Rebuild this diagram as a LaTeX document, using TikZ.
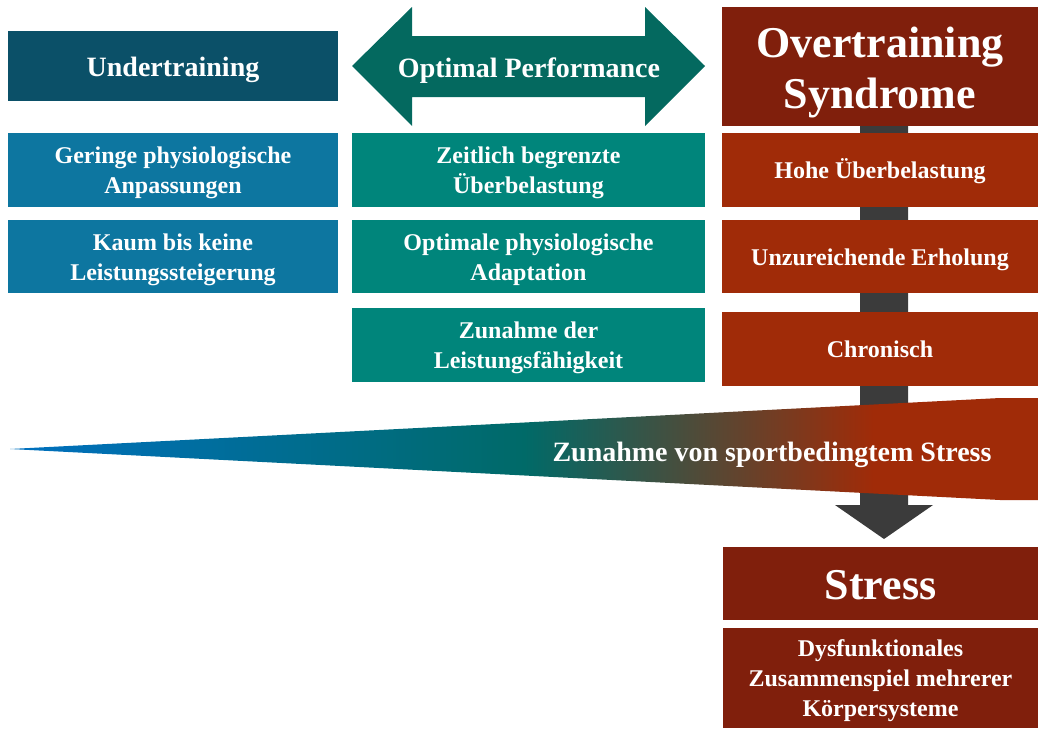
\documentclass[tikz,border=0pt]{standalone}
\usepackage{fontspec}
\setmainfont{Liberation Serif}

\definecolor{underdark}{RGB}{11,80,104}
\definecolor{underblue}{RGB}{13,118,160}
\definecolor{optdark}{RGB}{4,105,95}
\definecolor{optteal}{RGB}{0,133,123}
\definecolor{overdark}{RGB}{128,31,12}
\definecolor{overred}{RGB}{160,43,8}
\definecolor{bargray}{RGB}{59,59,59}
\definecolor{wedgeblue}{RGB}{0,112,192}
\definecolor{wedgeteal}{RGB}{0,106,104}

\pgfdeclarehorizontalshading{stressgrad}{100bp}{color(0bp)=(wedgeblue); color(25bp)=(wedgeblue); color(50bp)=(wedgeteal); color(67bp)=(overred); color(100bp)=(overred)}

\begin{document}
\begin{tikzpicture}[x=1pt, y=-1pt,
  nlines/.style={execute at begin node={\rule{0pt}{\dimexpr0.95em+#1\baselineskip-\baselineskip\relax}}},
  box/.style={inner sep=0pt, text=white, align=center, minimum height=74pt,
    font=\bfseries\fontsize{24}{30}\selectfont, nlines=1,
    execute at end node={\rule[-0.22em]{0pt}{0pt}}},
  undercol/.style={box, fill=underblue, minimum width=330pt},
  optcol/.style={box, fill=optteal, minimum width=353pt},
  overcol/.style={box, fill=overred, minimum width=316pt},
  title/.style={font=\bfseries\fontsize{28}{34}\selectfont},
  bigtitle/.style={font=\bfseries\fontsize{44}{51}\selectfont}]
  \useasboundingbox (0,0) rectangle (1038,728);

  % arrow behind the right column
  \fill[bargray] (860,110) -- (908,110) -- (908,505) -- (933,505) -- (884,539)
    -- (835,505) -- (860,505) -- cycle;

  % left column
  \node[undercol, fill=underdark, minimum height=70pt, title] (under) at (173,66) {Undertraining};
  \node[undercol, nlines=2] (gering) at (173,170) {Geringe physiologische\\Anpassungen};
  \node[undercol, nlines=2, minimum height=73pt] (kaum) at (173,256.5) {Kaum bis keine\\Leistungssteigerung};

  % middle column
  \fill[optdark] (352,66) -- (412,7) -- (412,36) -- (645,36) -- (645,7) -- (705,66)
    -- (645,126) -- (645,97) -- (412,97) -- (412,126) -- cycle;
  \node[box, title] (optimal) at (529,67) {Optimal Performance};
  \node[optcol, nlines=2] (zeitlich) at (528.5,170) {Zeitlich begrenzte\\Überbelastung};
  \node[optcol, nlines=2, minimum height=73pt] (adapt) at (528.5,256.5) {Optimale physiologische\\Adaptation};
  \node[optcol, nlines=2] (faehig) at (528.5,345) {Zunahme der\\Leistungsfähigkeit};

  % right column
  \node[overcol, fill=overdark, minimum height=119pt, bigtitle, nlines=2] (over) at (880,66.5) {Overtraining\\Syndrome};
  \node[overcol] (hohe) at (880,170) {Hohe Überbelastung};
  \node[overcol, minimum height=73pt] (erhol) at (880,256.5) {Unzureichende Erholung};
  \node[overcol] (chron) at (880,349) {Chronisch};

  % stress wedge
  \shade[shading=stressgrad] (10,449) -- (1000,398) -- (1038,398) -- (1038,500)
    -- (1000,500) -- cycle;
  \node[box, title] (wedge) at (772,451) {Zunahme von sportbedingtem Stress};

  % stress
  \node[overcol, fill=overdark, minimum width=315pt, minimum height=73pt, bigtitle] (stress) at (880.5,583.5) {Stress};
  \node[overcol, fill=overdark, minimum width=315pt, minimum height=100pt, nlines=3] (dysf) at (880.5,678)
    {Dysfunktionales\\Zusammenspiel mehrerer\\Körpersysteme};
\end{tikzpicture}
\end{document}
